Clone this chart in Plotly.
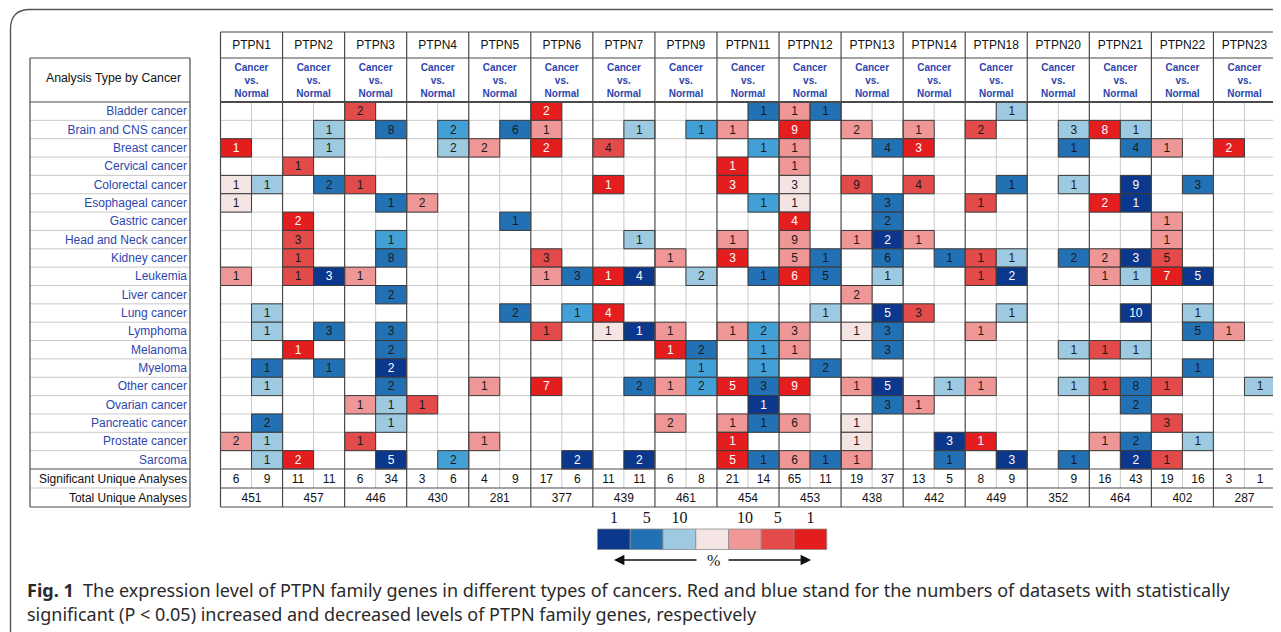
import plotly.graph_objects as go

genes = ["PTPN1", "PTPN2", "PTPN3", "PTPN4", "PTPN5", "PTPN6", "PTPN7", "PTPN9", "PTPN11",
         "PTPN12", "PTPN13", "PTPN14", "PTPN18", "PTPN20", "PTPN21", "PTPN22", "PTPN23"]
cancers = ["Bladder cancer", "Brain and CNS cancer", "Breast cancer", "Cervical cancer",
           "Colorectal cancer", "Esophageal cancer", "Gastric cancer", "Head and Neck cancer",
           "Kidney cancer", "Leukemia", "Liver cancer", "Lung cancer", "Lymphoma", "Melanoma",
           "Myeloma", "Other cancer", "Ovarian cancer", "Pancreatic cancer", "Prostate cancer",
           "Sarcoma"]

# (gene index, cancer index, number of analyses, rank level 1=top1% .. 4=lower)
over_cells = [
    (0, 2, 1, 1), (0, 4, 1, 4), (0, 5, 1, 4), (0, 9, 1, 3), (0, 18, 2, 3),
    (1, 3, 1, 2), (1, 6, 2, 1), (1, 7, 3, 2), (1, 8, 1, 2), (1, 9, 1, 2), (1, 13, 1, 1), (1, 19, 2, 1),
    (2, 0, 2, 2), (2, 4, 1, 2), (2, 9, 1, 3), (2, 16, 1, 3), (2, 18, 1, 2),
    (3, 5, 2, 3), (3, 16, 1, 2),
    (4, 2, 2, 3), (4, 15, 1, 3), (4, 18, 1, 3),
    (5, 0, 2, 1), (5, 1, 1, 3), (5, 2, 2, 1), (5, 8, 3, 2), (5, 9, 1, 3), (5, 12, 1, 2), (5, 15, 7, 1),
    (6, 2, 4, 2), (6, 4, 1, 1), (6, 9, 1, 1), (6, 11, 4, 1), (6, 12, 1, 4),
    (7, 8, 1, 3), (7, 12, 1, 3), (7, 13, 1, 1), (7, 15, 1, 3), (7, 17, 2, 3),
    (8, 1, 1, 3), (8, 3, 1, 1), (8, 4, 3, 1), (8, 7, 1, 3), (8, 8, 3, 1), (8, 12, 1, 3),
    (8, 15, 5, 1), (8, 17, 1, 3), (8, 18, 1, 1), (8, 19, 5, 1),
    (9, 0, 1, 3), (9, 1, 9, 1), (9, 2, 1, 3), (9, 3, 1, 3), (9, 4, 3, 4), (9, 5, 1, 4), (9, 6, 4, 1),
    (9, 7, 9, 3), (9, 8, 5, 3), (9, 9, 6, 1), (9, 12, 3, 3), (9, 13, 1, 3), (9, 15, 9, 1),
    (9, 17, 6, 3), (9, 19, 6, 3),
    (10, 1, 2, 3), (10, 4, 9, 2), (10, 7, 1, 3), (10, 10, 2, 3), (10, 12, 1, 4), (10, 15, 1, 3),
    (10, 17, 1, 4), (10, 18, 1, 4), (10, 19, 1, 3),
    (11, 1, 1, 3), (11, 2, 3, 1), (11, 4, 4, 2), (11, 7, 1, 3), (11, 11, 3, 2), (11, 16, 1, 3),
    (12, 1, 2, 2), (12, 5, 1, 2), (12, 8, 1, 2), (12, 9, 1, 2), (12, 12, 1, 3), (12, 15, 1, 3),
    (12, 18, 1, 1),
    (14, 1, 8, 1), (14, 5, 2, 1), (14, 8, 2, 3), (14, 9, 1, 3), (14, 13, 1, 2), (14, 15, 1, 2),
    (14, 18, 1, 3),
    (15, 2, 1, 3), (15, 6, 1, 3), (15, 7, 1, 3), (15, 8, 5, 2), (15, 9, 7, 1), (15, 15, 1, 2),
    (15, 17, 3, 2), (15, 19, 1, 2),
    (16, 2, 2, 1), (16, 12, 1, 3),
]
under_cells = [
    (0, 4, 1, 4), (0, 11, 1, 4), (0, 12, 1, 4), (0, 14, 1, 2), (0, 15, 1, 4), (0, 17, 2, 2),
    (0, 18, 1, 4), (0, 19, 1, 4),
    (1, 1, 1, 4), (1, 2, 1, 4), (1, 4, 2, 2), (1, 9, 3, 1), (1, 12, 3, 2), (1, 14, 1, 2),
    (2, 1, 8, 2), (2, 5, 1, 2), (2, 7, 1, 3), (2, 8, 8, 2), (2, 10, 2, 2), (2, 12, 3, 2),
    (2, 13, 2, 2), (2, 14, 2, 1), (2, 15, 2, 2), (2, 16, 1, 4), (2, 17, 1, 4), (2, 19, 5, 1),
    (3, 1, 2, 3), (3, 2, 2, 4), (3, 19, 2, 3),
    (4, 1, 6, 2), (4, 6, 1, 2), (4, 11, 2, 2),
    (5, 9, 3, 2), (5, 11, 1, 3), (5, 19, 2, 1),
    (6, 1, 1, 4), (6, 7, 1, 4), (6, 9, 4, 1), (6, 12, 1, 1), (6, 15, 2, 2), (6, 19, 2, 1),
    (7, 1, 1, 3), (7, 9, 2, 4), (7, 13, 2, 2), (7, 14, 1, 3), (7, 15, 2, 3),
    (8, 0, 1, 2), (8, 2, 1, 3), (8, 5, 1, 3), (8, 9, 1, 2), (8, 12, 2, 3), (8, 13, 1, 3),
    (8, 14, 1, 3), (8, 15, 3, 2), (8, 16, 1, 1), (8, 17, 1, 2), (8, 19, 1, 2),
    (9, 0, 1, 2), (9, 8, 1, 2), (9, 9, 5, 2), (9, 11, 1, 4), (9, 14, 2, 2), (9, 19, 1, 2),
    (10, 2, 4, 2), (10, 5, 3, 2), (10, 6, 2, 2), (10, 7, 2, 1), (10, 8, 6, 2), (10, 9, 1, 4),
    (10, 11, 5, 1), (10, 12, 3, 2), (10, 13, 3, 2), (10, 15, 5, 1), (10, 16, 3, 2),
    (11, 8, 1, 2), (11, 15, 1, 4), (11, 18, 3, 1), (11, 19, 1, 2),
    (12, 0, 1, 4), (12, 4, 1, 2), (12, 8, 1, 4), (12, 9, 2, 1), (12, 11, 1, 4), (12, 19, 3, 1),
    (13, 1, 3, 4), (13, 2, 1, 2), (13, 4, 1, 4), (13, 8, 2, 2), (13, 13, 1, 4), (13, 15, 1, 4),
    (13, 19, 1, 2),
    (14, 1, 1, 4), (14, 2, 4, 2), (14, 4, 9, 1), (14, 5, 1, 1), (14, 8, 3, 1), (14, 9, 1, 4),
    (14, 11, 10, 1), (14, 13, 1, 4), (14, 15, 8, 2), (14, 16, 2, 2), (14, 18, 2, 2), (14, 19, 2, 1),
    (15, 4, 3, 2), (15, 9, 5, 1), (15, 11, 1, 4), (15, 12, 5, 2), (15, 14, 1, 2), (15, 18, 1, 4),
    (16, 15, 1, 4),
]
sig_over = [6, 11, 6, 3, 4, 17, 11, 6, 21, 65, 19, 13, 8, None, 16, 19, 3]
sig_under = [9, 11, 34, 6, 9, 6, 11, 8, 14, 11, 37, 5, 9, 9, 43, 16, 1]
total_analyses = [451, 457, 446, 430, 281, 377, 439, 461, 454, 453, 438, 442, 449, 352, 464, 402, 287]
legend_labels = ["1", "5", "10", "", "10", "5", "1"]

# ---------------- styling / geometry ----------------
RED = {1: "#E41E1E", 2: "#E34B4B", 3: "#EF9797", 4: "#F4E4E4"}
BLUE = {1: "#0B388C", 2: "#2271B5", 3: "#43A0D6", 4: "#9ECAE1"}
LEGEND_COLORS = [BLUE[1], BLUE[2], BLUE[4], RED[4], RED[3], RED[2], RED[1]]
LABEL_BLUE = "#2D46AE"
DARK = "#4A4A4A"
LIGHT = "#C9C9C9"
SANS = "Liberation Sans, Arial, sans-serif"

# the page body has an 8 px margin; coordinates below are window pixels
PAGE_OFF = 8
W, H = 1281, 632

TX0, TX1 = 220.5, 1275.5
GW = (TX1 - TX0) / len(genes)
SW = GW / 2
HY0, HY1, HY2 = 32, 58, 102
RY0, RH = 102, 18.35
SY0 = RY0 + RH * len(cancers)
SY1 = SY0 + 19
TY1 = 507
LX0, LX1 = 30, 190

grid_shapes = []
cell_shapes = []
frame_shapes = []
annotations = []


def line(target, x0, y0, x1, y1, color, width=1):
    target.append(dict(type="line", xref="x", yref="y", x0=x0, y0=y0, x1=x1, y1=y1,
                       line=dict(color=color, width=width), layer="below"))


def rect(target, x0, y0, x1, y1, fill, color, width=1):
    target.append(dict(type="rect", xref="x", yref="y", x0=x0, y0=y0, x1=x1, y1=y1,
                       fillcolor=fill, line=dict(color=color, width=width), layer="below"))


fig = go.Figure()

# outer frame with rounded corner
frame_shapes.append(dict(type="path", xref="x", yref="y", layer="below",
                         path="M 1300,9.5 L 30,9.5 Q 10.5,9.5 10.5,29 L 10.5,650",
                         line=dict(color="#555555", width=1.4)))

# ---- grid of data area (light lines) ----
for r in range(1, len(cancers)):
    y = RY0 + r * RH
    line(grid_shapes, TX0, y, TX1, y, LIGHT)
    line(grid_shapes, LX0, y, LX1, y, LIGHT)
for g in range(len(genes)):
    xm = TX0 + g * GW + SW
    line(grid_shapes, xm, RY0, xm, SY1, LIGHT)

# ---- colored cells ----
text_dark = dict(x=[], y=[], t=[])
text_light = dict(x=[], y=[], t=[])
for cells, pal, side in ((over_cells, RED, 0), (under_cells, BLUE, 1)):
    for g, r, n, lvl in cells:
        x0 = TX0 + g * GW + side * SW
        y0 = RY0 + r * RH
        rect(cell_shapes, x0, y0, x0 + SW, y0 + RH, pal[lvl], "#3A3A3A", 1)
        tgt = text_light if lvl == 1 else text_dark
        tgt["x"].append(x0 + SW / 2)
        tgt["y"].append(y0 + RH / 2 + 1)
        tgt["t"].append(str(n))

# ---- gene separators and header boxes ----
for g in range(len(genes) + 1):
    x = TX0 + g * GW
    line(frame_shapes, x, HY0, x, TY1, DARK, 1.2)
line(frame_shapes, TX0, HY0, TX1, HY0, DARK, 1.2)
line(frame_shapes, TX0, HY1, TX1, HY1, DARK, 1.2)
line(frame_shapes, TX0, HY2, TX1, HY2, DARK, 2)
line(frame_shapes, TX0, SY0, TX1, SY0, DARK, 1.2)
line(frame_shapes, TX0, SY1, TX1, SY1, DARK, 1.2)
line(frame_shapes, TX0, TY1, TX1, TY1, DARK, 1.2)

# ---- left label table ----
line(frame_shapes, LX0, HY1, LX1, HY1, DARK, 1.2)
line(frame_shapes, LX0, HY2, LX1, HY2, DARK, 1.2)
line(frame_shapes, LX0, SY0, LX1, SY0, DARK, 1)
line(frame_shapes, LX0, SY1, LX1, SY1, LIGHT, 1)
line(frame_shapes, LX0, TY1, LX1, TY1, DARK, 1.2)
line(frame_shapes, LX0, HY1, LX0, TY1, DARK, 1.2)
line(frame_shapes, LX1, HY1, LX1, TY1, DARK, 1.2)

# ---- texts ----
fig.add_trace(go.Scatter(x=text_dark["x"], y=text_dark["y"], text=text_dark["t"], mode="text",
                         textfont=dict(family=SANS, size=12, color="#1A1A1A"), hoverinfo="skip"))
fig.add_trace(go.Scatter(x=text_light["x"], y=text_light["y"], text=text_light["t"], mode="text",
                         textfont=dict(family=SANS, size=12, color="#FFFFFF"), hoverinfo="skip"))

gx = [TX0 + g * GW + GW / 2 for g in range(len(genes))]
fig.add_trace(go.Scatter(x=gx, y=[(HY0 + HY1) / 2 + 1] * len(genes), text=genes, mode="text",
                         textfont=dict(family=SANS, size=12, color="#111111"), hoverinfo="skip"))
fig.add_trace(go.Scatter(x=gx, y=[(HY1 + HY2) / 2 + 1] * len(genes),
                         text=["<b>Cancer<br>vs.<br>Normal</b>"] * len(genes), mode="text",
                         textfont=dict(family=SANS, size=10, color=LABEL_BLUE), hoverinfo="skip"))

fig.add_trace(go.Scatter(x=[LX1 - 3] * len(cancers),
                         y=[RY0 + r * RH + RH / 2 + 1 for r in range(len(cancers))],
                         text=cancers, mode="text", textposition="middle left",
                         textfont=dict(family=SANS, size=12, color=LABEL_BLUE), hoverinfo="skip"))
fig.add_trace(go.Scatter(x=[LX1 - 3, LX1 - 3], y=[(SY0 + SY1) / 2 + 1, (SY1 + TY1) / 2 + 1],
                         text=["Significant Unique Analyses", "Total Unique Analyses"],
                         mode="text", textposition="middle left",
                         textfont=dict(family=SANS, size=12, color="#111111"), hoverinfo="skip"))
fig.add_trace(go.Scatter(x=[113.5], y=[(HY1 + HY2) / 2 - 1],
                         text=["Analysis Type by Cancer"], mode="text",
                         textfont=dict(family=SANS, size=12.3, color="#111111"), hoverinfo="skip"))

sx, sy, st = [], [], []
for g in range(len(genes)):
    for side, vals in ((0, sig_over), (1, sig_under)):
        if vals[g] is not None:
            sx.append(TX0 + g * GW + side * SW + SW / 2)
            sy.append((SY0 + SY1) / 2 + 1)
            st.append(str(vals[g]))
fig.add_trace(go.Scatter(x=sx, y=sy, text=st, mode="text",
                         textfont=dict(family=SANS, size=12, color="#111111"), hoverinfo="skip"))
fig.add_trace(go.Scatter(x=gx, y=[(SY1 + TY1) / 2 + 1] * len(genes),
                         text=[str(v) for v in total_analyses], mode="text",
                         textfont=dict(family=SANS, size=12, color="#111111"), hoverinfo="skip"))

# ---- color legend ----
LGX0, LGW, LGY0, LGY1 = 597.5, 32.75, 529, 549.5
for i, c in enumerate(LEGEND_COLORS):
    rect(frame_shapes, LGX0 + i * LGW, LGY0, LGX0 + (i + 1) * LGW, LGY1, c, "#8A8A8A", 0.8)
fig.add_trace(go.Scatter(x=[LGX0 + i * LGW + LGW / 2 for i in range(7)], y=[519] * 7,
                         text=legend_labels, mode="text",
                         textfont=dict(family="Liberation Serif, Times New Roman, serif", size=16,
                                       color="#111111"), hoverinfo="skip"))
annotations.append(dict(x=614, y=560, ax=698, ay=560, xref="x", yref="y", axref="x", ayref="y",
                        showarrow=True, arrowhead=2, arrowsize=1.3, arrowwidth=1.6,
                        arrowcolor="#111111", text=""))
annotations.append(dict(x=811, y=560, ax=727, ay=560, xref="x", yref="y", axref="x", ayref="y",
                        showarrow=True, arrowhead=2, arrowsize=1.3, arrowwidth=1.6,
                        arrowcolor="#111111", text=""))
annotations.append(dict(x=713, y=560, xref="x", yref="y", text="%", showarrow=False,
                        font=dict(family="Liberation Serif, serif", size=16, color="#111111")))

# ---- caption ----
CAP = "Noto Sans, Open Sans, sans-serif"
annotations.append(dict(x=25, y=590, xref="x", yref="y", xanchor="left", yanchor="middle",
                        showarrow=False,
                        text="<b>Fig. 1</b>  The expression level of PTPN family genes in different types of cancers. "
                             "Red and blue stand for the numbers of datasets with statistically",
                        font=dict(family=CAP, size=18, color="#2A2A2A")))
annotations.append(dict(x=25, y=614, xref="x", yref="y", xanchor="left", yanchor="middle",
                        showarrow=False,
                        text="significant (P < 0.05) increased and decreased levels of PTPN family genes, respectively",
                        font=dict(family=CAP, size=18, color="#2A2A2A")))

fig.update_layout(
    width=W - PAGE_OFF, height=H - PAGE_OFF, margin=dict(l=0, r=0, t=0, b=0),
    paper_bgcolor="white", plot_bgcolor="white", showlegend=False,
    shapes=grid_shapes + cell_shapes + frame_shapes, annotations=annotations, hovermode=False,
    xaxis=dict(range=[PAGE_OFF, W], visible=False, fixedrange=True),
    yaxis=dict(range=[H, PAGE_OFF], visible=False, fixedrange=True),
)
fig.write_html("out.html")
